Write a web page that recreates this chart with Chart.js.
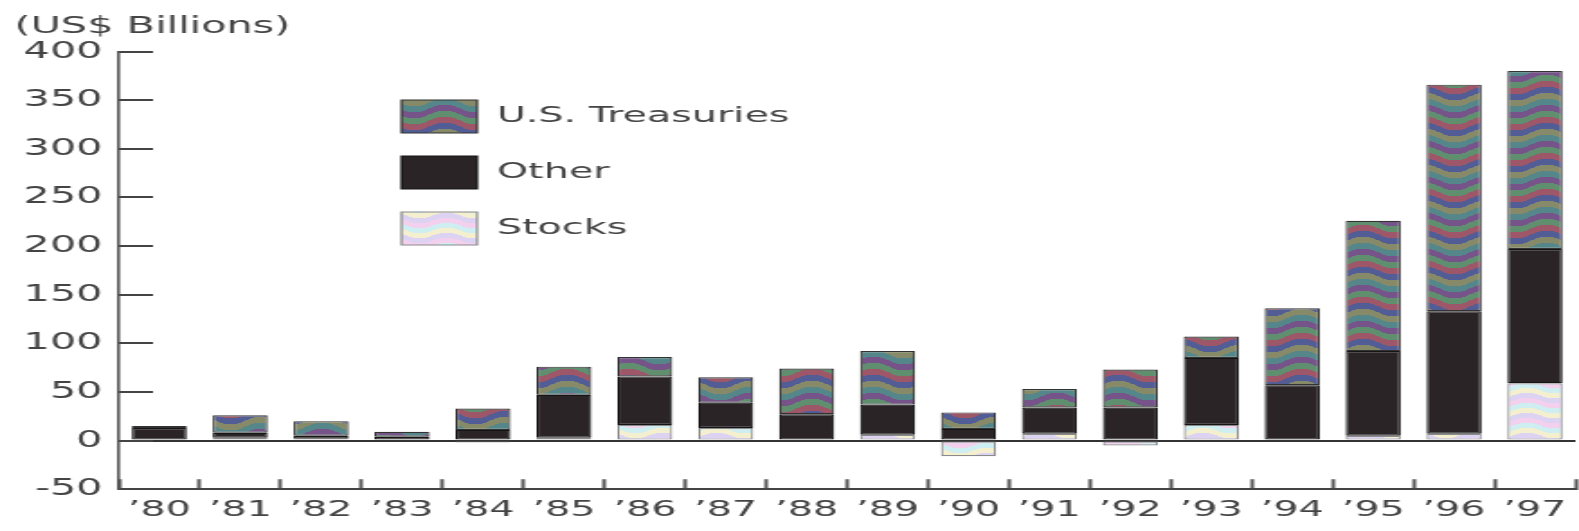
<!DOCTYPE html>
<html>
<head>
<meta charset="utf-8">
<script src="https://cdn.jsdelivr.net/npm/chart.js@4.4.1/dist/chart.umd.min.js"></script>
<style>
  html, body { margin: 0; padding: 0; background: #fff; }
  #chart { display: block; }
</style>
</head>
<body>
<!-- the scan is stretched sideways, so draw at 877 wide and show it at 1579 -->
<canvas id="chart" width="877" height="531" style="width:1579px;height:531px"></canvas>
<script>
const years = ['’80', '’81', '’82', '’83', '’84', '’85', '’86', '’87', '’88',
               '’89', '’90', '’91', '’92', '’93', '’94', '’95', '’96', '’97'];
const treasuries = [2, 18, 15, 5, 22, 29, 20, 26, 47, 55, 17, 19, 39, 22, 79, 134, 233, 183];
const other = [12, 5, 3, 3, 11, 44, 50, 26, 27, 31, 12, 27, 34, 69, 57, 87, 126, 138];
const stocks = [1, 3, 2, 1, -2, 3, 16, 13, -1, 6, -16, 7, -5, 16, -1, 5, 7, 59];
const yTicks = [-50, 0, 50, 100, 150, 200, 250, 300, 350, 400];

const canvas = document.getElementById('chart');
const ctx = canvas.getContext('2d');

// wavy colour bands, like the printed screen in the scan
function bands(colors, band, wave, w) {
  const c = document.createElement('canvas');
  c.width = w;
  c.height = band * colors.length;
  const g = c.getContext('2d');
  for (let x = 0; x < w; x++) {
    for (let y = 0; y < c.height; y++) {
      const k = Math.floor((y + wave * Math.sin(2 * Math.PI * x / w)) / band);
      g.fillStyle = colors[((k % colors.length) + colors.length) % colors.length];
      g.fillRect(x, y, 1, 1);
    }
  }
  return ctx.createPattern(c, 'repeat');
}

const treasuryFill = bands(['#76548a', '#5f8f6e', '#9e5769', '#525d96', '#878a68', '#55878a'], 6, 4, 34);
const stockFill = bands(['#f2d0ee', '#cfeef2', '#f3efcf', '#dcd3f2'], 5, 3, 30);

// put the legend inside the plot, top left
const moveLegend = {
  id: 'moveLegend',
  afterLayout(chart) {
    const lg = chart.legend;
    const w = lg.width;
    lg.left = 200;
    lg.top = 77;
    lg.right = lg.left + w;
    lg.bottom = lg.top + 300;
  }
};

Chart.defaults.font.family = 'DejaVu Sans';
Chart.defaults.color = '#444';

new Chart(ctx, {
  type: 'bar',
  data: {
    labels: years,
    datasets: [
      { label: 'Stocks', data: stocks, backgroundColor: stockFill, borderColor: '#8a8a8a', borderWidth: 1.2, borderSkipped: false },
      { label: 'Other', data: other, backgroundColor: '#2a2427', borderColor: '#151515', borderWidth: 1.2, borderSkipped: false },
      { label: 'U.S. Treasuries', data: treasuries, backgroundColor: treasuryFill, borderColor: '#333', borderWidth: 1.2, borderSkipped: false }
    ]
  },
  options: {
    responsive: false,
    animation: false,
    devicePixelRatio: 1,
    layout: { padding: { left: 8, right: 2, top: 0, bottom: 0 } },
    datasets: { bar: { barPercentage: 0.68, categoryPercentage: 1 } },
    plugins: {
      title: {
        display: true,
        text: '(US$ Billions)',
        align: 'start',
        color: '#444',
        font: { size: 23, weight: 'normal' },
        padding: { top: 13, bottom: 11 }
      },
      legend: {
        position: 'chartArea',
        align: 'start',
        reverse: true,
        labels: { boxWidth: 42, boxHeight: 33, padding: 23, color: '#444', font: { size: 22 } }
      },
      tooltip: { enabled: false }
    },
    scales: {
      x: {
        stacked: true,
        grid: { offset: true, drawOnChartArea: false, tickLength: -10, tickColor: '#555', tickWidth: 2 },
        border: { color: '#444', width: 2 },
        ticks: { color: '#444', font: { size: 22 }, padding: 18, maxRotation: 0, autoSkip: false },
        afterFit: s => { s.height = 38; s.paddingLeft = 0; s.paddingRight = 0; }
      },
      y: {
        stacked: true,
        min: yTicks[0],
        max: yTicks[yTicks.length - 1],
        afterBuildTicks: s => { s.ticks = yTicks.map(v => ({ value: v })); },
        grid: {
          color: c => (c.tick && c.tick.value === 0) ? '#333' : 'rgba(0,0,0,0)',
          lineWidth: 2,
          tickColor: '#444',
          tickLength: -19,
          tickWidth: 2
        },
        border: { color: '#555', width: 1.6 },
        ticks: { color: '#444', font: { size: 23 }, padding: 28 },
        afterFit: s => { s.width = 58; }
      }
    }
  },
  plugins: [moveLegend]
});
</script>
</body>
</html>
